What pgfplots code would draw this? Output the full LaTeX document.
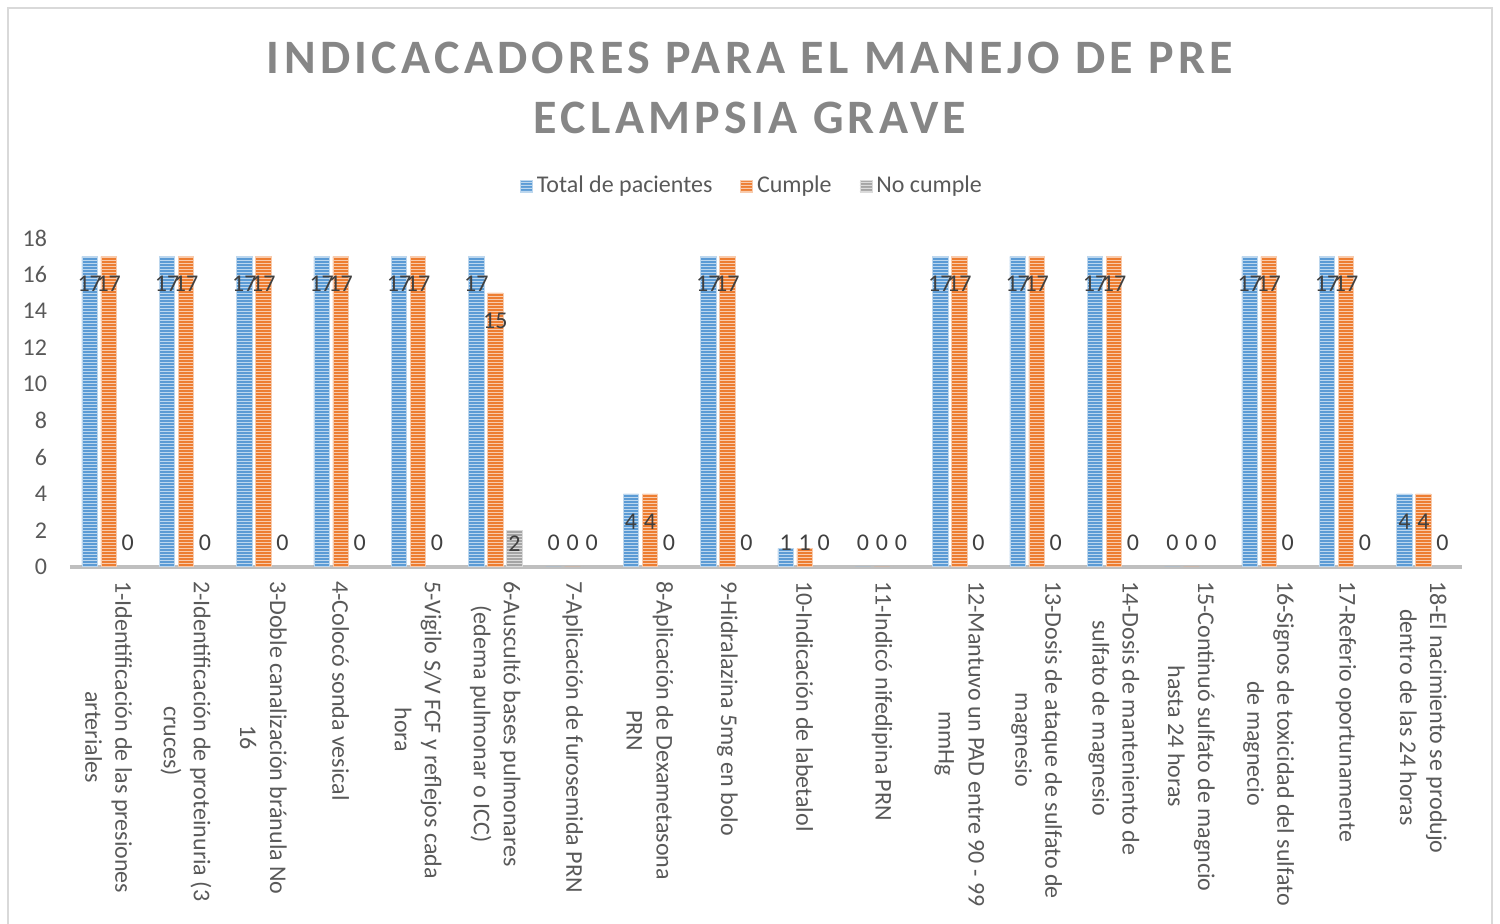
\documentclass[border=0pt]{standalone}
\usepackage{pgfplots}
\pgfplotsset{compat=1.18}
\usepackage{fontspec}
\setmainfont{Carlito}
\newfontfamily\titlefont[LetterSpace=9]{Carlito Bold}
\usetikzlibrary{patterns}

\definecolor{cblue}{HTML}{5B9BD5}
\definecolor{cbluel}{HTML}{BDD7EE}
\definecolor{corange}{HTML}{ED7D31}
\definecolor{corangel}{HTML}{F8CBAD}
\definecolor{cgray}{HTML}{A5A5A5}
\definecolor{cgrayl}{HTML}{DBDBDB}
\definecolor{txt}{HTML}{595959}
\definecolor{lbl}{HTML}{404040}
\definecolor{frame}{HTML}{D9D9D9}
\definecolor{axisc}{HTML}{BFBFBF}

\pgfplotsset{/pgf/number format/assume math mode=true}

% narrow horizontal stripes, one wide tile so no seams show inside bars
\pgfdeclarepatternformonly{hstripes}{\pgfqpoint{0pt}{0pt}}{\pgfqpoint{800pt}{1.5pt}}{\pgfqpoint{800pt}{1.5pt}}{%
  \pgfpathrectangle{\pgfqpoint{-1pt}{0pt}}{\pgfqpoint{802pt}{0.65pt}}\pgfusepath{fill}}
\tikzset{
  stripes/.style={fill=#1, postaction={pattern=hstripes, pattern color=#1l}},
}

\begin{document}
\begin{tikzpicture}
\useasboundingbox (0,0) rectangle (750pt,462pt);
\draw[frame, line width=0.8pt] (4pt,-10pt) rectangle (746pt,458pt);

\node[font=\titlefont\fontsize{24}{30}\selectfont, text=gray!95!white, align=center]
  at (375pt,418pt) {INDICACADORES PARA EL MANEJO DE PRE\\ECLAMPSIA GRAVE};

\begin{axis}[
    at={(35pt,178.5pt)}, anchor=origin,
    scale only axis,
    width=696pt, height=164.5pt,
    ybar=1.8pt, bar width=7.7pt,
    xmin=0.5, xmax=18.5,
    ymin=0, ymax=18,
    ytick={0,2,...,18},
    xtick={1,...,18},
    xticklabels={
      {1-Identificación de las presiones\\arteriales},
      {2-Identificación de proteinuria (3\\cruces)},
      {3-Doble canalización bránula No\\16},
      {4-Colocó sonda vesical},
      {5-Vigilo S/V FCF y reflejos cada\\hora},
      {6-Auscultó bases pulmonares\\(edema pulmonar o ICC)},
      {7-Aplicación de furosemida PRN},
      {8-Aplicación de Dexametasona\\PRN},
      {9-Hidralazina 5mg en bolo},
      {10-Indicación de labetalol},
      {11-Indicó nifedipina PRN},
      {12-Mantuvo un PAD entre 90 - 99\\mmHg},
      {13-Dosis de ataque de sulfato de\\magnesio},
      {14-Dosis de manteniento de\\sulfato de magnesio},
      {15-Continuó sulfato de magncio\\hasta 24 horas},
      {16-Signos de toxicidad del sulfato\\de magnecio},
      {17-Referio oportunamente},
      {18-El nacimiento se produjo\\dentro de las 24 horas}},
    xticklabel shift=3.5pt,
    xticklabel style={rotate=-90, anchor=west, align=center,
      font=\fontsize{12}{15}\selectfont, text=txt},
    yticklabel style={font=\fontsize{12}{14}\selectfont, text=txt, xshift=-8pt},
    major tick length=0pt,
    axis lines*=left,
    y axis line style={draw=none},
    x axis line style={draw=axisc, line width=1.8pt},
    legend style={at={(0.4907,1.158)}, anchor=center, draw=none, fill=none,
      legend columns=3, font=\fontsize{12}{14}\selectfont, text=txt,
      /tikz/every even column/.append style={column sep=12pt}},
    legend image code/.code={\draw[#1, draw=none] (0pt,-3pt) rectangle (6pt,3pt);},
    nodes near coords,
    visualization depends on={rawy \as \rawy},
    every node near coord/.append style={anchor=center, text=lbl,
      font=\fontsize{12}{14}\selectfont,
      yshift={(\rawy>3) ? -14 : (1.3-\rawy)*9.14}},
]
\addplot[stripes=cblue, draw=cbluel, line width=0.3pt] coordinates {
  (1,17) (2,17) (3,17) (4,17) (5,17) (6,17) (7,0) (8,4) (9,17)
  (10,1) (11,0) (12,17) (13,17) (14,17) (15,0) (16,17) (17,17) (18,4)};
\addplot[stripes=corange, draw=corangel, line width=0.3pt] coordinates {
  (1,17) (2,17) (3,17) (4,17) (5,17) (6,15) (7,0) (8,4) (9,17)
  (10,1) (11,0) (12,17) (13,17) (14,17) (15,0) (16,17) (17,17) (18,4)};
\addplot[stripes=cgray, draw=cgrayl, line width=0.3pt] coordinates {
  (1,0) (2,0) (3,0) (4,0) (5,0) (6,2) (7,0) (8,0) (9,0)
  (10,0) (11,0) (12,0) (13,0) (14,0) (15,0) (16,0) (17,0) (18,0)};
\legend{Total de pacientes, Cumple, No cumple}
\end{axis}
\end{tikzpicture}
\end{document}
